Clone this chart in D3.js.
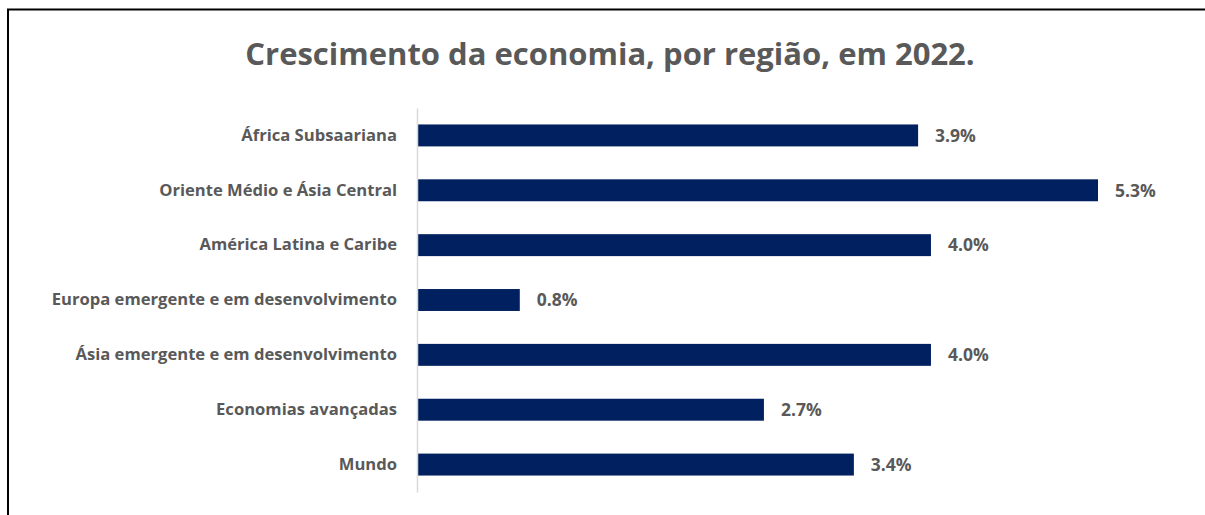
<!DOCTYPE html>
<html>
<head>
<meta charset="utf-8">
<script src="https://cdn.jsdelivr.net/npm/d3@7"></script>
<style>
  body { margin: 0; background: #fff; }
  text { font-family: "Open Sans", Lato, sans-serif; font-weight: bold; fill: #595959; }
</style>
</head>
<body>
<div id="chart"></div>
<script>
var regions = [
    "África Subsaariana",
    "Oriente Médio e Ásia Central",
    "América Latina e Caribe",
    "Europa emergente e em desenvolvimento",
    "Ásia emergente e em desenvolvimento",
    "Economias avançadas",
    "Mundo"
];
var growth = [3.9, 5.3, 4.0, 0.8, 4.0, 2.7, 3.4];
var title = "Crescimento da economia, por região, em 2022.";

var width = 1205,
    height = 515,
    plotLeft = 417,
    plotTop = 108,
    plotBottom = 492;

var svg = d3
    .select("#chart")
    .append("svg")
    .attr("width", width)
    .attr("height", height);

// frame (only left and top are visible in the picture)
svg.append("rect")
    .attr("x", 8)
    .attr("y", 9.5)
    .attr("width", width + 20)
    .attr("height", height + 20)
    .attr("fill", "none")
    .attr("stroke", "#000")
    .attr("stroke-width", 2);

svg.append("text")
    .attr("x", 610)
    .attr("y", 65)
    .attr("text-anchor", "middle")
    .style("font-size", "31px")
    .text(title);

var x = d3.scaleLinear()
    .domain([0, 5.3])
    .range([plotLeft, 1098]);

var y = d3.scaleBand()
    .domain(regions)
    .range([plotTop, plotBottom])
    .paddingInner(0.6)
    .paddingOuter(0.3);

var rows = regions.map(function (r, i) {
    return { region: r, value: growth[i] };
});

svg.selectAll("rect.bar")
    .data(rows)
    .enter()
    .append("rect")
    .attr("class", "bar")
    .attr("x", x(0))
    .attr("y", function (d) { return y(d.region); })
    .attr("width", function (d) { return x(d.value) - x(0); })
    .attr("height", y.bandwidth())
    .attr("fill", "#002060");

svg.selectAll("text.val")
    .data(rows)
    .enter()
    .append("text")
    .attr("class", "val")
    .attr("x", function (d) { return x(d.value) + 17; })
    .attr("y", function (d) { return y(d.region) + y.bandwidth() / 2; })
    .attr("dy", "0.36em")
    .style("font-size", "17.5px")
    .text(function (d) { return d.value.toFixed(1) + "%"; });

var axis = svg.append("g")
    .attr("transform", "translate(" + plotLeft + ",0)")
    .call(d3.axisLeft(y).tickSize(0).tickPadding(20));

axis.select(".domain")
    .attr("stroke", "#d9d9d9")
    .attr("stroke-width", 1.5);

axis.selectAll(".tick text")
    .attr("fill", "#595959")
    .style("font-size", "16.6px")
    .style("font-family", "'Open Sans', sans-serif");
</script>
</body>
</html>
